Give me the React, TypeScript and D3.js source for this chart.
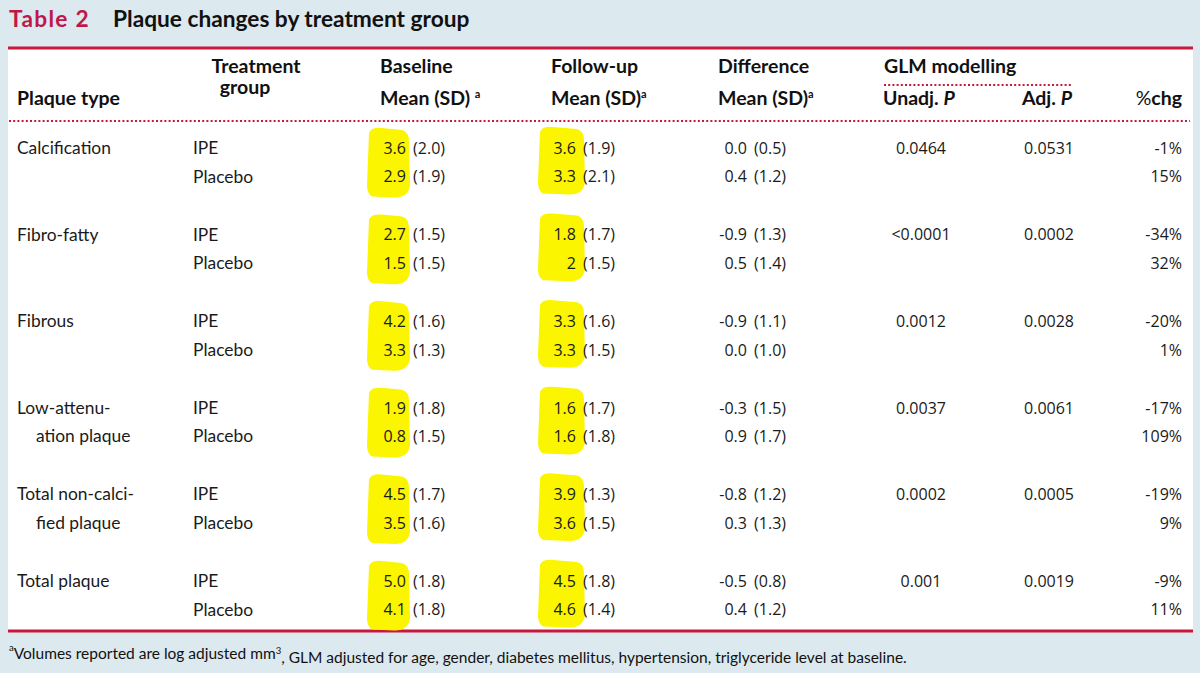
import React from "react";
import * as d3 from "d3";

// ---------- data ----------
const plaqueTypes: string[][] = [
  ["Calcification"],
  ["Fibro-fatty"],
  ["Fibrous"],
  ["Low-attenu-", "ation plaque"],
  ["Total non-calci-", "fied plaque"],
  ["Total plaque"],
];
const groups = ["IPE", "Placebo"];

const baselineMean = [["3.6", "2.9"], ["2.7", "1.5"], ["4.2", "3.3"], ["1.9", "0.8"], ["4.5", "3.5"], ["5.0", "4.1"]];
const baselineSD = [["2.0", "1.9"], ["1.5", "1.5"], ["1.6", "1.3"], ["1.8", "1.5"], ["1.7", "1.6"], ["1.8", "1.8"]];
const followMean = [["3.6", "3.3"], ["1.8", "2"], ["3.3", "3.3"], ["1.6", "1.6"], ["3.9", "3.6"], ["4.5", "4.6"]];
const followSD = [["1.9", "2.1"], ["1.7", "1.5"], ["1.6", "1.5"], ["1.7", "1.8"], ["1.3", "1.5"], ["1.8", "1.4"]];
const diffMeanSD = [["0.0 (0.5)", "0.4 (1.2)"], ["-0.9 (1.3)", "0.5 (1.4)"], ["-0.9 (1.1)", "0.0 (1.0)"], ["-0.3 (1.5)", "0.9 (1.7)"], ["-0.8 (1.2)", "0.3 (1.3)"], ["-0.5 (0.8)", "0.4 (1.2)"]];
const unadjP = ["0.0464", "<0.0001", "0.0012", "0.0037", "0.0002", "0.001"];
const adjP = ["0.0531", "0.0002", "0.0028", "0.0061", "0.0005", "0.0019"];
const pctChg = [["-1%", "15%"], ["-34%", "32%"], ["-20%", "1%"], ["-17%", "109%"], ["-19%", "9%"], ["-9%", "11%"]];

// ---------- style ----------
const W = 1200, H = 673;
const BG = "#dce9ee";
const RED = "#c8193c";
const TITLE_RED = "#c0174a";
const YELLOW = "#fbf500";
const LABEL_FONT = "Lato, 'Noto Sans', sans-serif";
const NUM_FONT = "'Open Sans', 'Noto Sans', sans-serif";
const TEXT = "#1a1a1a";

const col = {
  type: 17,
  group: 193,
  baseEnd: 445,
  followEnd: 615,
  diffEnd: 786,
  unadjMid: 921,
  adjEnd: 1074,
  chgEnd: 1182,
};

export default function App() {
  const yGroup = d3.scaleLinear().domain([0, plaqueTypes.length - 1]).range([148, 581]);
  const yRow = d3.scaleLinear().domain([0, 1]).range([0, 28.6]);
  const rowY = (g: number, r: number) => yGroup(g) + yRow(r);

  const numSize = 16;
  const lblSize = 17.4;
  const hdrSize = 19.5;

  const blob = (x0: number, x1: number, yTop: number, yBot: number) => {
    const p = d3.path();
    p.moveTo(x0 + 3, yTop + 5);
    p.quadraticCurveTo(x0 + 5, yTop - 1, x0 + 16, yTop);
    p.lineTo(x1 - 7, yTop + 2);
    p.quadraticCurveTo(x1, yTop + 4, x1, yTop + 13);
    p.lineTo(x1 + 1, yBot - 12);
    p.quadraticCurveTo(x1 - 1, yBot, x1 - 14, yBot);
    p.lineTo(x0 + 6, yBot - 1);
    p.quadraticCurveTo(x0 + 1, yBot - 4, x0 + 1, yBot - 12);
    p.closePath();
    return p.toString();
  };

  const num = (text: string, x: number, y: number, anchor: "start" | "end" | "middle") => (
    <text x={x} y={y} dy="0.36em" textAnchor={anchor} fontFamily={NUM_FONT} fontSize={numSize} wordSpacing={3} fill={TEXT}>
      {text}
    </text>
  );
  const lbl = (text: string, x: number, y: number) => (
    <text x={x} y={y} dy="0.34em" fontFamily={LABEL_FONT} fontSize={lblSize} fill={TEXT}>
      {text}
    </text>
  );

  return (
    <svg width={W} height={H} style={{ position: "absolute", left: 0, top: 0, display: "block" }}>
      <rect x={0} y={0} width={W} height={H} fill={BG} />
      {/* title */}
      <text x={9} y={27} fontFamily={LABEL_FONT} fontWeight={700} fontSize={22.7} letterSpacing={1.3} fill={TITLE_RED}>
        Table 2
      </text>
      <text x={113} y={27} fontFamily={LABEL_FONT} fontWeight={700} fontSize={22.7} fill="#111">
        Plaque changes by treatment group
      </text>

      {/* table panel */}
      <rect x={8} y={48} width={1185} height={583} fill="#fff" />
      <line x1={8} x2={1193} y1={48} y2={48} stroke={RED} strokeWidth={3} />
      <line x1={8} x2={1193} y1={631} y2={631} stroke={RED} strokeWidth={3} />

      {/* header */}
      <g fontFamily={LABEL_FONT} fontWeight={700} fontSize={hdrSize} fill="#111">
        <text x={256} y={73} textAnchor="middle">Treatment</text>
        <text x={245} y={94} textAnchor="middle">group</text>
        <text x={17} y={105}>Plaque type</text>
        <text x={380} y={73}>Baseline</text>
        <text x={380} y={105}>
          Mean (SD) <tspan fontSize={11} dy="-0.65em">a</tspan>
        </text>
        <text x={551} y={73}>Follow-up</text>
        <text x={551} y={105}>
          Mean (SD)<tspan fontSize={11} dy="-0.65em">a</tspan>
        </text>
        <text x={718} y={73}>Difference</text>
        <text x={718} y={105}>
          Mean (SD)<tspan fontSize={11} dy="-0.65em">a</tspan>
        </text>
        <text x={884} y={73}>GLM modelling</text>
        <text x={883} y={105}>
          Unadj. <tspan fontStyle="italic">P</tspan>
        </text>
        <text x={1072} y={105} textAnchor="end">
          Adj. <tspan fontStyle="italic">P</tspan>
        </text>
        <text x={1182} y={105} textAnchor="end">
          <tspan fontWeight={400}>%</tspan>chg
        </text>
      </g>
      <line x1={884} x2={1073} y1={85} y2={85} stroke={RED} strokeWidth={2} strokeDasharray="2,2.2" />
      <line x1={9} x2={1190} y1={121} y2={121} stroke={RED} strokeWidth={2} strokeDasharray="2,2.2" />

      {/* highlights */}
      {plaqueTypes.map((_, g) => (
        <g key={"hl" + g} fill={YELLOW}>
          <path d={blob(366, 409, rowY(g, 0) - 20, rowY(g, 1) + 21)} />
          <path d={blob(537, 584, rowY(g, 0) - 21, rowY(g, 1) + 18)} />
        </g>
      ))}

      {/* body */}
      {plaqueTypes.map((lines, g) => (
        <g key={"g" + g}>
          {lines.map((ln, i) => (
            <React.Fragment key={i}>{lbl(ln, i === 0 ? col.type : 36, rowY(g, i))}</React.Fragment>
          ))}
          {groups.map((grp, r) => (
            <g key={grp}>
              {lbl(grp, col.group, rowY(g, r))}
              {num(`${baselineMean[g][r]} (${baselineSD[g][r]})`, col.baseEnd, rowY(g, r), "end")}
              {num(`${followMean[g][r]} (${followSD[g][r]})`, col.followEnd, rowY(g, r), "end")}
              {num(diffMeanSD[g][r], col.diffEnd, rowY(g, r), "end")}
              {num(pctChg[g][r], col.chgEnd, rowY(g, r), "end")}
            </g>
          ))}
          {num(unadjP[g], col.unadjMid, rowY(g, 0), "middle")}
          {num(adjP[g], col.adjEnd, rowY(g, 0), "end")}
        </g>
      ))}

      {/* footnote */}
      <text x={9} y={656} dy="0.34em" fontFamily={LABEL_FONT} fontSize={15.5} fill="#111">
        <tspan fontSize={9.5} dy="-0.55em">a</tspan>
        <tspan dy="0.55em">Volumes reported are log adjusted mm</tspan>
        <tspan fontSize={9.5} dy="-0.55em">3</tspan>
        <tspan dy="0.55em">, GLM adjusted for age, gender, diabetes mellitus, hypertension, triglyceride level at baseline.</tspan>
      </text>
    </svg>
  );
}
